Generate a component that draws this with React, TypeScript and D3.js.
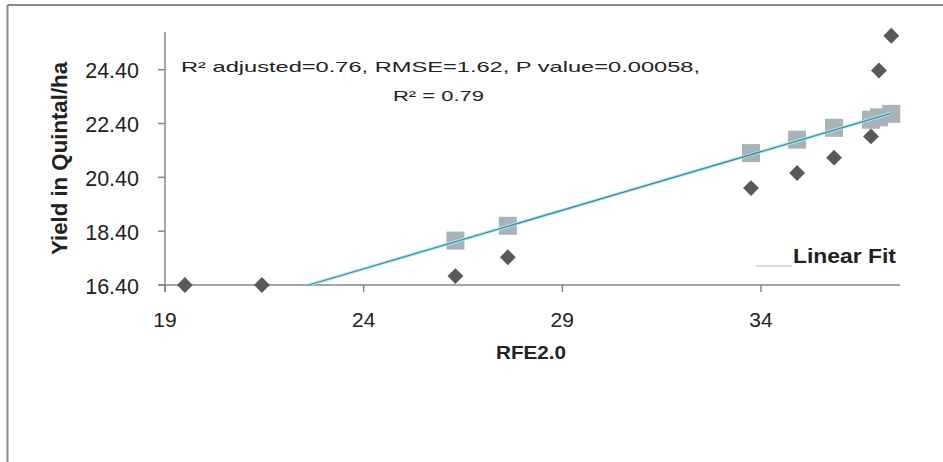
import React from "react";
import * as d3 from "d3";

// RFE2.0 rainfall estimate (x) and yield (y)
const rfe: number[] = [19.5, 21.44, 26.31, 27.63, 33.75, 34.91, 35.84, 36.77, 36.97, 37.28];
const observedYield: number[] = [16.4, 16.4, 16.73, 17.43, 20.0, 20.56, 21.13, 21.92, 24.37, 25.66];
const predictedYield: (number | null)[] = [null, null, 18.05, 18.6, 21.3, 21.8, 22.24, 22.54, 22.63, 22.76];
const fitX: number[] = [22.62, 37.25];
const fitY: number[] = [16.4, 22.77];
const xTicks: number[] = [19, 24, 29, 34];
const yTicks: number[] = [16.4, 18.4, 20.4, 22.4, 24.4];
const annotationLine1 = "R² adjusted=0.76, RMSE=1.62, P value=0.00058,";
const annotationLine2 = "R² = 0.79";
const xTitle = "RFE2.0";
const yTitle = "Yield in Quintal/ha";
const legendLabel = "Linear Fit";

export default function App() {
  const x = d3.scaleLinear().domain([19, 37.5]).range([165, 900]);
  const y = d3.scaleLinear().domain([16.4, 25.8]).range([285, 32]);
  const axisColor = "#878787";
  const font = "'Liberation Sans', Arial, sans-serif";
  const line = d3
    .line<number>()
    .x((_, i) => x(fitX[i]))
    .y((d) => y(d));
  const fitPath = line(fitY) || "";
  const diamond = d3.symbol().type(d3.symbolDiamond2 ?? d3.symbolDiamond).size(160)();

  return (
    <svg
      width={943}
      height={462}
      style={{ position: "absolute", left: 0, top: 0, background: "#fff" }}
      fontFamily={font}
    >
      <rect x={0} y={0} width={943} height={462} fill="#fff" />
      {/* outer frame (left and top visible) */}
      <line x1={7.5} y1={5} x2={7.5} y2={462} stroke="#8a8a8a" strokeWidth={2} />
      <line x1={7.5} y1={5} x2={943} y2={5} stroke="#8a8a8a" strokeWidth={2} />

      {/* axes */}
      <line x1={x(19)} y1={y(25.8)} x2={x(19)} y2={y(16.4) + 7} stroke={axisColor} strokeWidth={1.5} />
      <line x1={x(19) - 7} y1={y(16.4)} x2={x(37.5)} y2={y(16.4)} stroke={axisColor} strokeWidth={1.5} />
      {yTicks.map((t) => (
        <g key={"y" + t}>
          <line x1={x(19) - 7} x2={x(19)} y1={y(t)} y2={y(t)} stroke={axisColor} strokeWidth={1.5} />
          <text
            x={139}
            y={y(t) + 8.5}
            textAnchor="end"
            fontSize={21.5}
            fill="#222"
          >
            {t.toFixed(2)}
          </text>
        </g>
      ))}
      {xTicks.map((t) => (
        <g key={"x" + t}>
          <line x1={x(t)} x2={x(t)} y1={y(16.4)} y2={y(16.4) + 7} stroke={axisColor} strokeWidth={1.5} />
          <text x={x(t)} y={327} textAnchor="middle" fontSize={21} fill="#222">
            {t}
          </text>
        </g>
      ))}

      {/* axis titles */}
      <text
        x={531}
        y={359}
        textAnchor="middle"
        fontSize={19}
        fontWeight="bold"
        fill="#222"
        textLength={70}
        lengthAdjust="spacingAndGlyphs"
      >
        {xTitle}
      </text>
      <text
        transform={`translate(67,158.5) rotate(-90)`}
        textAnchor="middle"
        fontSize={22}
        fontWeight="bold"
        fill="#222"
        textLength={193}
        lengthAdjust="spacingAndGlyphs"
      >
        {yTitle}
      </text>

      {/* predicted squares */}
      {predictedYield.map((p, i) =>
        p == null ? null : (
          <rect
            key={"s" + i}
            x={x(rfe[i]) - 9}
            y={y(p) - 9}
            width={18}
            height={18}
            fill="#a8b2b9"
          />
        )
      )}

      {/* linear fit */}
      <path d={fitPath} stroke="#aee6f2" strokeWidth={3.5} fill="none" opacity={0.8} />
      <path d={fitPath} stroke="#3c8ea2" strokeWidth={1.3} fill="none" />

      {/* observed diamonds */}
      {observedYield.map((o, i) => (
        <path
          key={"d" + i}
          d={diamond || ""}
          transform={`translate(${x(rfe[i])},${y(o)})`}
          fill="#595959"
        />
      ))}

      {/* annotation */}
      <text
        x={181}
        y={72}
        fontSize={15}
        fill="#222"
        textLength={519}
        lengthAdjust="spacingAndGlyphs"
      >
        {annotationLine1}
      </text>
      <text
        x={393}
        y={101}
        fontSize={15}
        fill="#222"
        textLength={91}
        lengthAdjust="spacingAndGlyphs"
      >
        {annotationLine2}
      </text>

      {/* legend */}
      <line x1={756} x2={792} y1={266} y2={266} stroke="#9bbccb" strokeWidth={1.2} />
      <text
        x={793}
        y={263}
        fontSize={20.5}
        fontWeight="bold"
        fill="#222"
        textLength={103}
        lengthAdjust="spacingAndGlyphs"
      >
        {legendLabel}
      </text>
    </svg>
  );
}
